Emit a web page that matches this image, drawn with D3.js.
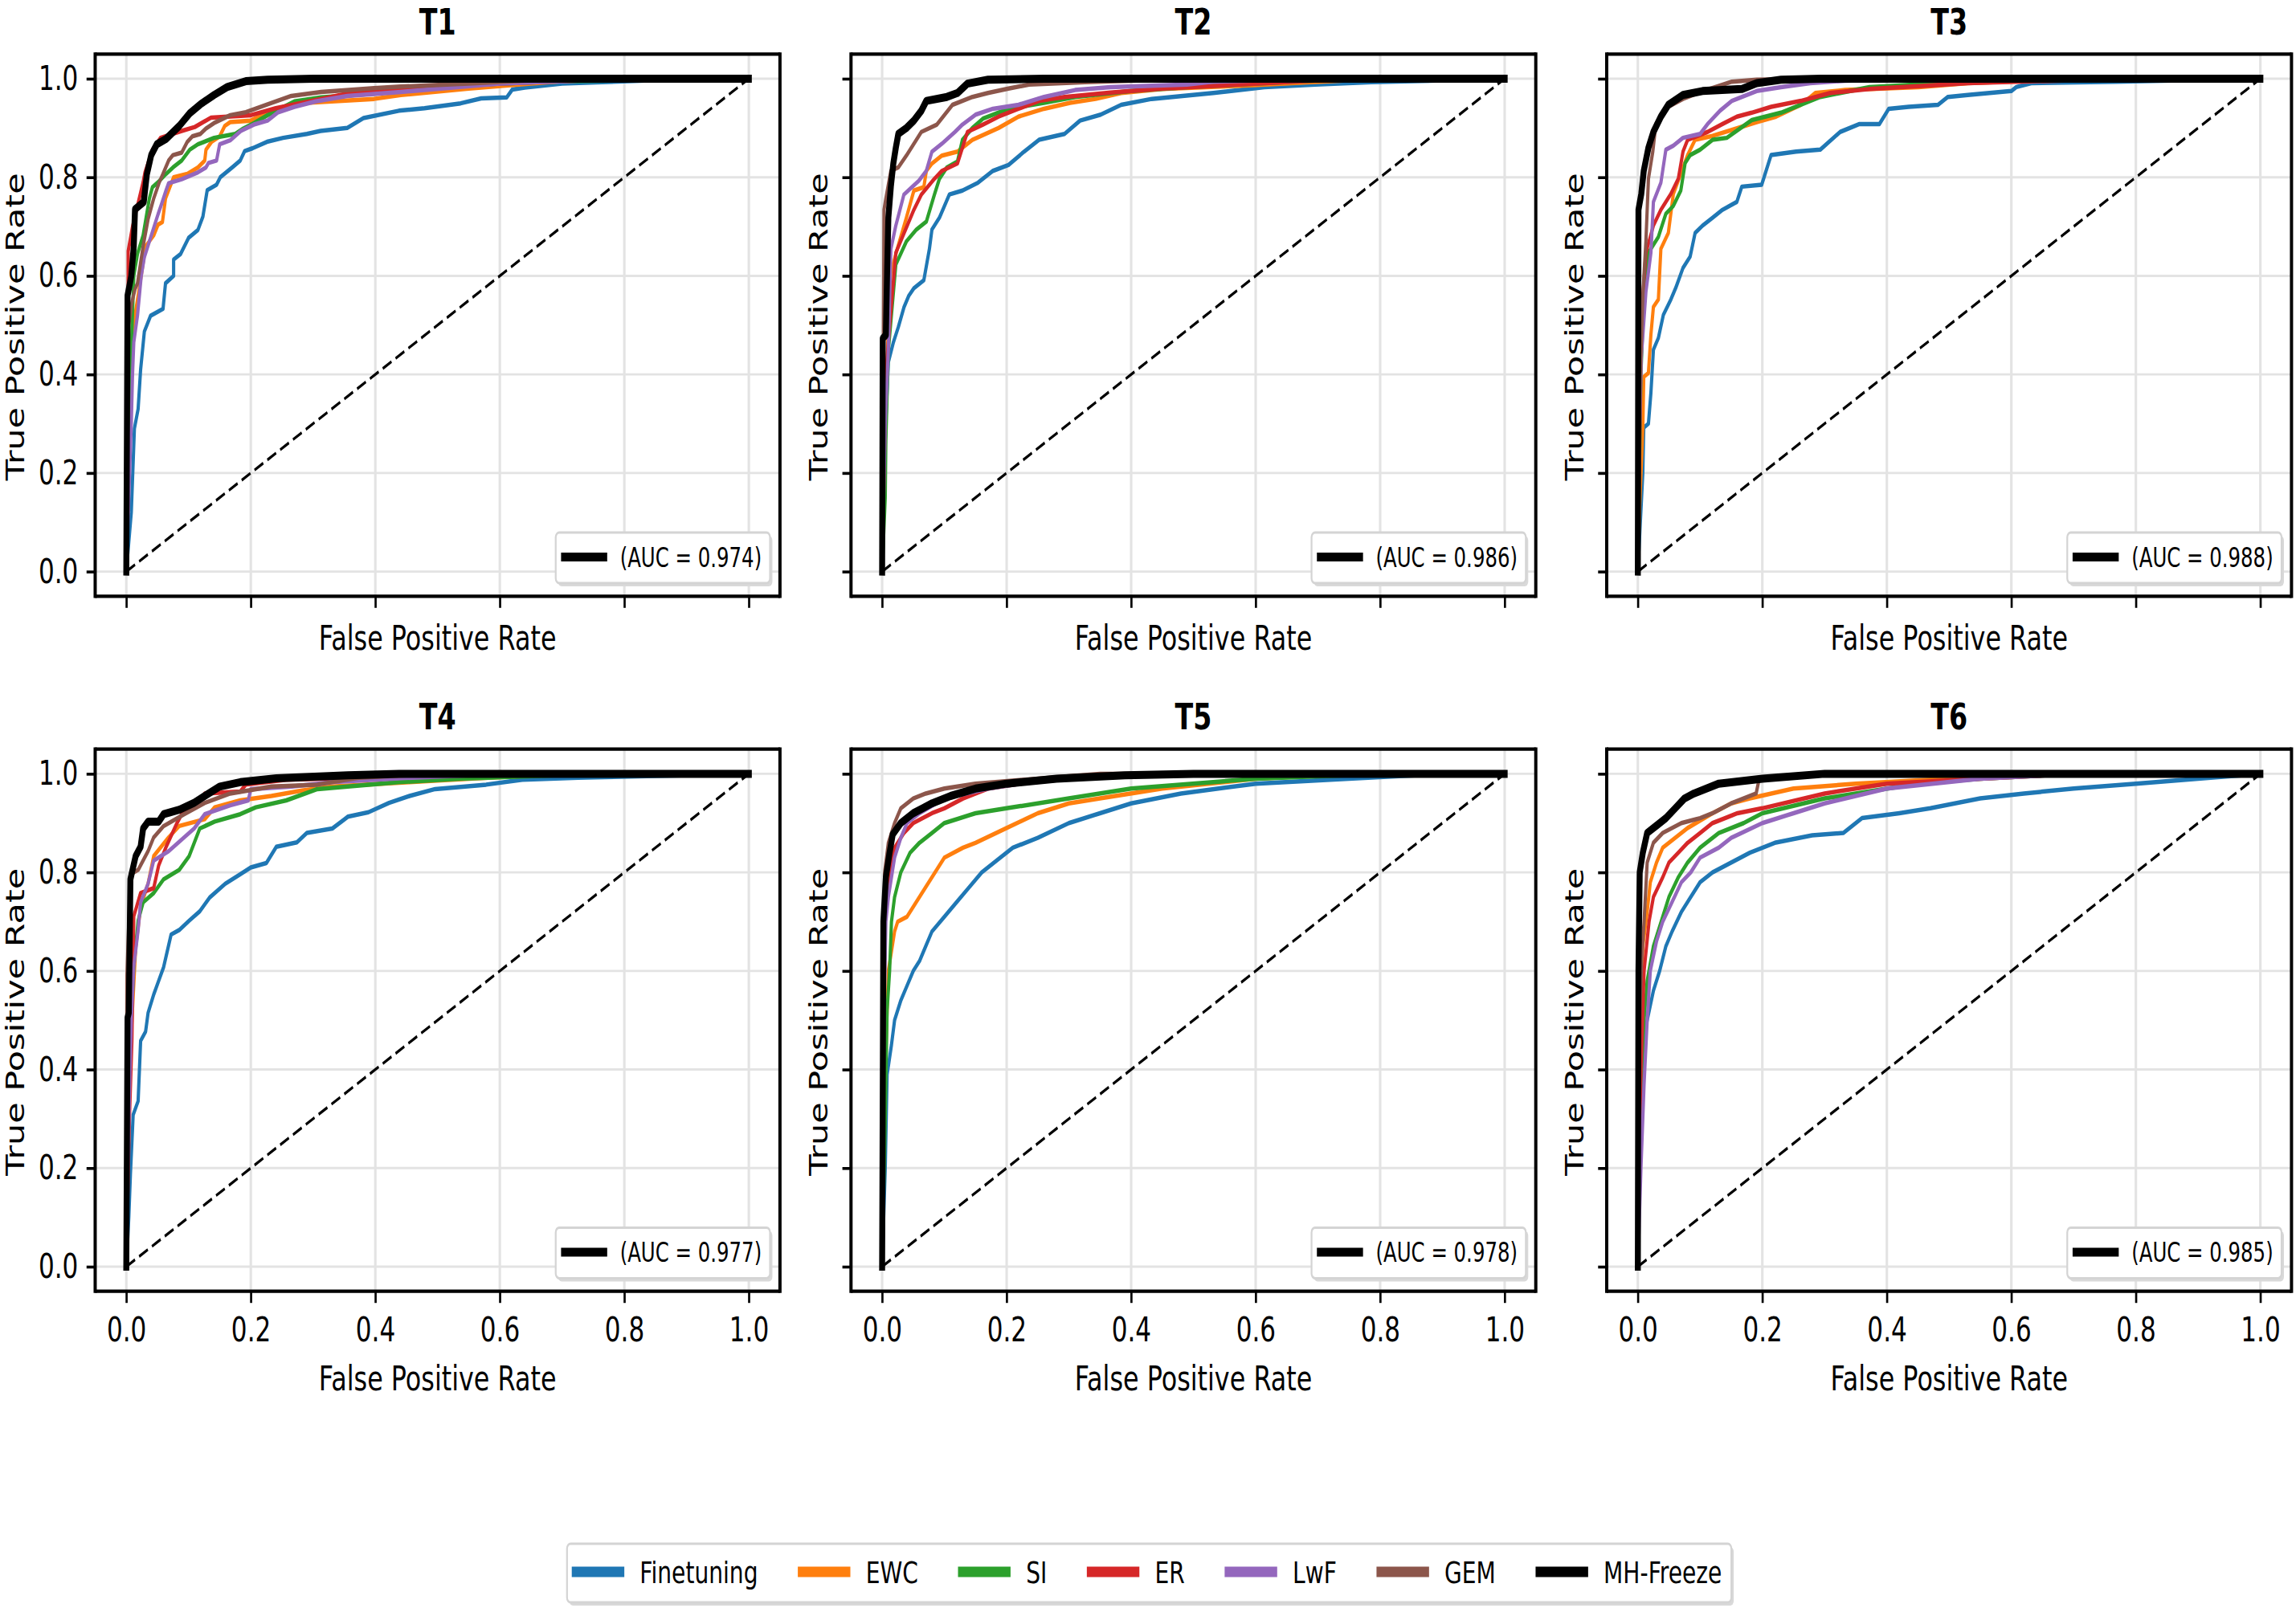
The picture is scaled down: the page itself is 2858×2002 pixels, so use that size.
<!DOCTYPE html>
<html>
<head>
<meta charset="utf-8">
<script src="https://cdn.jsdelivr.net/npm/d3@7/dist/d3.min.js"></script>
<style>
  body { margin: 0; background: #ffffff; }
  svg { display: block; }
  text { font-family: "DejaVu Sans", sans-serif; fill: #000; }
</style>
</head>
<body>
<svg id="chart" width="2858" height="2002"></svg>
<script>
// ---------------- data ----------------
const tasks = ["T1", "T2", "T3", "T4", "T5", "T6"];
const methods = ["Finetuning", "EWC", "SI", "ER", "LwF", "GEM", "MH-Freeze"];
const methodColors = ["#1f77b4", "#ff7f0e", "#2ca02c", "#d62728", "#9467bd", "#8c564b", "#000000"];
const aucValues = ["0.974", "0.986", "0.988", "0.977", "0.978", "0.985"];
const tickValues = [0, 0.2, 0.4, 0.6, 0.8, 1.0];
const chanceLine = [[0, 0], [1, 1]];

// ROC curves, [FPR, TPR] vertices, in method order
const roc_T1 = [
  [[0,0],[0.008,0.12],[0.013,0.29],[0.019,0.33],[0.023,0.41],[0.029,0.487],[0.039,0.519],[0.059,0.533],[0.063,0.585],[0.076,0.60],[0.076,0.633],[0.087,0.644],[0.10,0.677],[0.115,0.693],[0.123,0.72],[0.13,0.774],[0.145,0.785],[0.151,0.80],[0.171,0.821],[0.183,0.834],[0.19,0.853],[0.203,0.859],[0.226,0.872],[0.252,0.88],[0.29,0.888],[0.312,0.894],[0.355,0.90],[0.381,0.92],[0.438,0.935],[0.479,0.94],[0.537,0.95],[0.57,0.96],[0.611,0.962],[0.62,0.978],[0.64,0.982],[0.70,0.99],[0.85,0.997],[1,1]],
  [[0,0],[0.006,0.3],[0.01,0.47],[0.014,0.52],[0.024,0.60],[0.031,0.66],[0.044,0.682],[0.051,0.704],[0.058,0.709],[0.063,0.757],[0.076,0.80],[0.098,0.807],[0.115,0.82],[0.126,0.834],[0.128,0.856],[0.137,0.872],[0.15,0.883],[0.158,0.904],[0.167,0.912],[0.2,0.915],[0.227,0.932],[0.253,0.943],[0.29,0.951],[0.398,0.959],[0.441,0.967],[0.55,0.98],[0.65,0.99],[0.75,1.0],[1,1]],
  [[0,0],[0.008,0.45],[0.012,0.6],[0.018,0.645],[0.027,0.682],[0.037,0.757],[0.042,0.78],[0.051,0.79],[0.064,0.807],[0.075,0.82],[0.089,0.834],[0.102,0.856],[0.115,0.867],[0.141,0.88],[0.175,0.888],[0.188,0.899],[0.205,0.91],[0.227,0.926],[0.253,0.943],[0.27,0.954],[0.313,0.962],[0.398,0.97],[0.5,0.985],[0.7,0.995],[1,1]],
  [[0,0],[0.003,0.5],[0.003,0.65],[0.01,0.70],[0.027,0.79],[0.03,0.81],[0.042,0.856],[0.055,0.88],[0.089,0.894],[0.11,0.902],[0.136,0.921],[0.2,0.926],[0.24,0.94],[0.27,0.948],[0.313,0.959],[0.355,0.97],[0.441,0.978],[0.6,0.99],[0.8,1.0],[1,1]],
  [[0,0],[0.008,0.3],[0.01,0.4],[0.012,0.465],[0.018,0.52],[0.022,0.573],[0.024,0.60],[0.029,0.638],[0.051,0.725],[0.057,0.747],[0.064,0.774],[0.068,0.788],[0.089,0.796],[0.115,0.81],[0.128,0.82],[0.132,0.829],[0.145,0.834],[0.15,0.867],[0.167,0.875],[0.184,0.894],[0.205,0.907],[0.227,0.915],[0.244,0.932],[0.27,0.943],[0.304,0.954],[0.355,0.965],[0.441,0.973],[0.6,0.99],[0.8,1],[1,1]],
  [[0,0],[0.004,0.5],[0.009,0.546],[0.014,0.573],[0.018,0.585],[0.027,0.66],[0.035,0.715],[0.044,0.757],[0.053,0.79],[0.059,0.807],[0.068,0.834],[0.075,0.845],[0.089,0.85],[0.098,0.872],[0.106,0.883],[0.119,0.888],[0.128,0.899],[0.141,0.91],[0.167,0.926],[0.192,0.932],[0.227,0.948],[0.265,0.965],[0.313,0.973],[0.398,0.981],[0.441,0.984],[0.55,0.99],[0.7,1],[1,1]],
  [[0,0],[0.002,0.56],[0.008,0.6],[0.012,0.66],[0.014,0.735],[0.028,0.75],[0.033,0.806],[0.04,0.845],[0.049,0.867],[0.064,0.878],[0.085,0.904],[0.102,0.93],[0.119,0.948],[0.141,0.967],[0.162,0.983],[0.192,0.995],[0.227,0.998],[0.3,1.0],[1,1]]
];
const roc_T2 = [
  [[0,0],[0.004,0.2],[0.006,0.307],[0.01,0.425],[0.018,0.465],[0.026,0.496],[0.035,0.536],[0.043,0.56],[0.051,0.575],[0.067,0.591],[0.076,0.655],[0.08,0.694],[0.092,0.718],[0.108,0.765],[0.129,0.773],[0.154,0.789],[0.178,0.813],[0.203,0.825],[0.228,0.852],[0.252,0.876],[0.293,0.888],[0.318,0.915],[0.351,0.927],[0.384,0.947],[0.433,0.959],[0.532,0.971],[0.614,0.983],[0.696,0.988],[0.786,0.993],[1,1]],
  [[0,0],[0.006,0.35],[0.01,0.5],[0.014,0.607],[0.026,0.662],[0.039,0.718],[0.051,0.773],[0.067,0.78],[0.071,0.813],[0.08,0.828],[0.096,0.844],[0.121,0.852],[0.145,0.876],[0.187,0.90],[0.219,0.923],[0.26,0.939],[0.302,0.951],[0.343,0.959],[0.384,0.971],[0.45,0.979],[0.597,0.987],[0.688,0.993],[0.8,1],[1,1]],
  [[0,0],[0.005,0.15],[0.006,0.267],[0.01,0.449],[0.022,0.623],[0.039,0.67],[0.055,0.694],[0.071,0.71],[0.084,0.765],[0.092,0.797],[0.104,0.82],[0.121,0.832],[0.129,0.876],[0.145,0.90],[0.162,0.919],[0.203,0.939],[0.26,0.951],[0.31,0.963],[0.40,0.975],[0.49,0.983],[0.573,0.988],[0.75,1],[1,1]],
  [[0,0],[0.004,0.25],[0.006,0.402],[0.014,0.528],[0.022,0.647],[0.035,0.686],[0.051,0.734],[0.063,0.765],[0.084,0.797],[0.096,0.813],[0.121,0.828],[0.129,0.86],[0.137,0.892],[0.162,0.907],[0.187,0.923],[0.219,0.939],[0.252,0.955],[0.293,0.963],[0.367,0.972],[0.45,0.98],[0.573,0.988],[0.75,1],[1,1]],
  [[0,0],[0.005,0.3],[0.01,0.449],[0.014,0.654],[0.022,0.702],[0.035,0.765],[0.059,0.793],[0.071,0.813],[0.08,0.852],[0.096,0.868],[0.117,0.892],[0.129,0.907],[0.15,0.927],[0.178,0.939],[0.219,0.947],[0.26,0.963],[0.31,0.977],[0.367,0.983],[0.49,0.988],[0.53,0.994],[0.7,1],[1,1]],
  [[0,0],[0.002,0.45],[0.003,0.734],[0.006,0.757],[0.014,0.813],[0.026,0.82],[0.039,0.844],[0.051,0.868],[0.063,0.892],[0.088,0.907],[0.113,0.947],[0.145,0.963],[0.17,0.971],[0.203,0.98],[0.236,0.988],[0.326,0.993],[0.45,0.998],[0.6,1],[1,1]],
  [[0,0],[0.001,0.473],[0.006,0.48],[0.008,0.607],[0.01,0.718],[0.014,0.781],[0.018,0.828],[0.022,0.86],[0.026,0.888],[0.039,0.90],[0.051,0.915],[0.063,0.935],[0.071,0.955],[0.104,0.963],[0.121,0.971],[0.137,0.99],[0.17,0.998],[0.26,1.0],[1,1]]
];
const roc_T3 = [
  [[0,0],[0.008,0.2],[0.0095,0.292],[0.017,0.30],[0.021,0.363],[0.025,0.45],[0.033,0.474],[0.041,0.521],[0.053,0.552],[0.061,0.576],[0.0725,0.616],[0.084,0.639],[0.092,0.687],[0.104,0.702],[0.12,0.718],[0.136,0.734],[0.159,0.75],[0.167,0.781],[0.199,0.785],[0.21,0.829],[0.214,0.845],[0.254,0.852],[0.293,0.856],[0.325,0.892],[0.356,0.908],[0.388,0.908],[0.403,0.939],[0.435,0.943],[0.482,0.947],[0.498,0.963],[0.53,0.967],[0.60,0.975],[0.608,0.983],[0.632,0.991],[0.766,0.994],[1,1]],
  [[0,0],[0.003,0.134],[0.008,0.292],[0.0095,0.395],[0.017,0.403],[0.021,0.481],[0.025,0.537],[0.033,0.552],[0.037,0.655],[0.049,0.687],[0.057,0.766],[0.08,0.845],[0.092,0.876],[0.12,0.884],[0.151,0.896],[0.191,0.912],[0.222,0.923],[0.262,0.947],[0.285,0.971],[0.333,0.977],[0.451,0.983],[0.53,0.991],[0.7,1],[1,1]],
  [[0,0],[0.005,0.4],[0.0095,0.56],[0.017,0.647],[0.033,0.679],[0.045,0.726],[0.057,0.742],[0.069,0.773],[0.076,0.829],[0.084,0.845],[0.10,0.856],[0.12,0.876],[0.143,0.88],[0.183,0.916],[0.23,0.931],[0.293,0.963],[0.372,0.983],[0.49,0.991],[0.7,1],[1,1]],
  [[0,0],[0.004,0.35],[0.0055,0.513],[0.013,0.647],[0.025,0.702],[0.037,0.734],[0.053,0.766],[0.065,0.797],[0.0725,0.852],[0.08,0.876],[0.112,0.892],[0.136,0.908],[0.159,0.923],[0.183,0.931],[0.214,0.943],[0.262,0.955],[0.309,0.971],[0.372,0.979],[0.451,0.985],[0.53,0.991],[0.608,0.994],[0.8,1],[1,1]],
  [[0,0],[0.003,0.3],[0.0055,0.434],[0.013,0.568],[0.021,0.647],[0.025,0.75],[0.037,0.789],[0.045,0.856],[0.057,0.864],[0.0725,0.88],[0.10,0.888],[0.112,0.908],[0.132,0.935],[0.151,0.955],[0.191,0.975],[0.23,0.983],[0.277,0.991],[0.333,0.996],[0.45,1],[1,1]],
  [[0,0],[0.004,0.4],[0.008,0.56],[0.013,0.671],[0.017,0.797],[0.024,0.852],[0.029,0.908],[0.049,0.943],[0.0725,0.959],[0.096,0.971],[0.151,0.994],[0.191,0.998],[0.3,1],[1,1]],
  [[0,0],[0.001,0.734],[0.0055,0.766],[0.0095,0.813],[0.017,0.86],[0.025,0.892],[0.037,0.923],[0.049,0.947],[0.0725,0.967],[0.104,0.975],[0.167,0.979],[0.191,0.991],[0.23,0.998],[0.293,1],[1,1]]
];
const roc_T4 = [
  [[0,0],[0.004,0.1],[0.0066,0.187],[0.011,0.308],[0.019,0.336],[0.023,0.458],[0.031,0.477],[0.035,0.515],[0.044,0.552],[0.052,0.58],[0.06,0.608],[0.072,0.674],[0.085,0.683],[0.101,0.702],[0.118,0.721],[0.134,0.749],[0.159,0.777],[0.183,0.796],[0.2,0.81],[0.225,0.819],[0.241,0.852],[0.274,0.861],[0.29,0.88],[0.331,0.889],[0.356,0.913],[0.389,0.922],[0.422,0.941],[0.455,0.955],[0.496,0.969],[0.578,0.978],[0.636,0.988],[0.726,0.992],[1,1]],
  [[0,0],[0.003,0.3],[0.0066,0.44],[0.015,0.646],[0.023,0.73],[0.035,0.777],[0.044,0.833],[0.068,0.871],[0.085,0.894],[0.126,0.908],[0.142,0.932],[0.183,0.946],[0.233,0.955],[0.282,0.966],[0.331,0.974],[0.455,0.983],[0.562,0.991],[0.7,1],[1,1]],
  [[0,0],[0.005,0.35],[0.008,0.5],[0.012,0.608],[0.019,0.702],[0.027,0.739],[0.044,0.758],[0.06,0.786],[0.085,0.805],[0.101,0.833],[0.118,0.889],[0.142,0.903],[0.183,0.918],[0.208,0.932],[0.257,0.946],[0.307,0.969],[0.438,0.983],[0.537,0.99],[0.75,1],[1,1]],
  [[0,0],[0.005,0.3],[0.009,0.458],[0.012,0.711],[0.023,0.758],[0.044,0.768],[0.052,0.814],[0.064,0.852],[0.081,0.899],[0.089,0.918],[0.109,0.932],[0.126,0.96],[0.183,0.964],[0.192,0.978],[0.257,0.988],[0.373,0.992],[0.438,1],[1,1]],
  [[0,0],[0.005,0.35],[0.008,0.5],[0.012,0.608],[0.019,0.683],[0.023,0.739],[0.035,0.777],[0.044,0.824],[0.068,0.843],[0.093,0.871],[0.109,0.889],[0.126,0.918],[0.167,0.936],[0.196,0.946],[0.2,0.969],[0.266,0.974],[0.331,0.983],[0.438,0.991],[0.6,1],[1,1]],
  [[0,0],[0.001,0.59],[0.0066,0.796],[0.019,0.805],[0.035,0.843],[0.044,0.871],[0.06,0.894],[0.093,0.918],[0.126,0.941],[0.167,0.96],[0.233,0.974],[0.307,0.978],[0.373,0.992],[0.5,1],[1,1]],
  [[0,0],[0.002,0.505],[0.004,0.515],[0.0066,0.786],[0.015,0.833],[0.023,0.852],[0.027,0.889],[0.035,0.903],[0.052,0.903],[0.06,0.918],[0.085,0.927],[0.109,0.941],[0.126,0.955],[0.15,0.974],[0.183,0.983],[0.241,0.991],[0.356,0.997],[0.438,1],[1,1]]
];
const roc_T5 = [
  [[0,0],[0.005,0.2],[0.008,0.39],[0.015,0.45],[0.02,0.5],[0.03,0.54],[0.04,0.57],[0.05,0.6],[0.06,0.62],[0.07,0.65],[0.08,0.68],[0.1,0.71],[0.12,0.74],[0.14,0.77],[0.16,0.8],[0.19,0.83],[0.21,0.85],[0.25,0.87],[0.3,0.9],[0.35,0.92],[0.4,0.94],[0.48,0.96],[0.6,0.98],[0.75,0.99],[0.9,1],[1,1]],
  [[0,0],[0.005,0.4],[0.01,0.6],[0.02,0.68],[0.025,0.7],[0.04,0.71],[0.05,0.73],[0.07,0.77],[0.09,0.81],[0.1,0.83],[0.13,0.85],[0.15,0.86],[0.2,0.89],[0.25,0.92],[0.3,0.94],[0.35,0.95],[0.45,0.97],[0.6,0.99],[0.75,1],[1,1]],
  [[0,0],[0.005,0.3],[0.008,0.52],[0.012,0.6],[0.015,0.7],[0.02,0.75],[0.03,0.8],[0.045,0.84],[0.06,0.86],[0.08,0.88],[0.1,0.9],[0.15,0.92],[0.2,0.93],[0.3,0.95],[0.4,0.97],[0.6,0.99],[0.8,1],[1,1]],
  [[0,0],[0.003,0.5],[0.005,0.7],[0.01,0.78],[0.02,0.85],[0.035,0.88],[0.05,0.9],[0.08,0.92],[0.1,0.93],[0.13,0.95],[0.17,0.97],[0.22,0.98],[0.3,0.99],[0.45,1],[1,1]],
  [[0,0],[0.003,0.5],[0.006,0.7],[0.01,0.75],[0.02,0.83],[0.03,0.87],[0.04,0.9],[0.06,0.92],[0.1,0.95],[0.17,0.97],[0.22,0.98],[0.3,0.99],[0.4,1],[1,1]],
  [[0,0],[0.002,0.6],[0.004,0.8],[0.01,0.86],[0.02,0.9],[0.03,0.93],[0.05,0.95],[0.07,0.96],[0.1,0.97],[0.15,0.98],[0.25,0.99],[0.35,1],[1,1]],
  [[0,0],[0.002,0.7],[0.006,0.79],[0.012,0.84],[0.017,0.877],[0.03,0.9],[0.05,0.92],[0.065,0.93],[0.08,0.94],[0.11,0.955],[0.15,0.97],[0.2,0.98],[0.28,0.99],[0.39,0.997],[0.5,1],[1,1]]
];
const roc_T6 = [
  [[0,0],[0.005,0.3],[0.008,0.45],[0.015,0.5],[0.025,0.56],[0.035,0.6],[0.045,0.65],[0.055,0.68],[0.07,0.72],[0.085,0.75],[0.1,0.78],[0.12,0.8],[0.15,0.82],[0.18,0.84],[0.22,0.86],[0.28,0.875],[0.33,0.88],[0.36,0.91],[0.42,0.92],[0.47,0.93],[0.55,0.95],[0.62,0.96],[0.7,0.97],[0.8,0.98],[0.9,0.99],[1,1]],
  [[0,0],[0.004,0.5],[0.008,0.65],[0.015,0.72],[0.02,0.78],[0.03,0.82],[0.04,0.85],[0.06,0.87],[0.08,0.89],[0.12,0.92],[0.15,0.94],[0.18,0.95],[0.25,0.97],[0.35,0.98],[0.5,0.99],[0.65,1],[1,1]],
  [[0,0],[0.005,0.35],[0.01,0.5],[0.015,0.58],[0.025,0.65],[0.04,0.71],[0.05,0.75],[0.065,0.79],[0.08,0.82],[0.1,0.85],[0.13,0.88],[0.17,0.9],[0.2,0.92],[0.3,0.95],[0.45,0.98],[0.55,0.99],[0.7,1],[1,1]],
  [[0,0],[0.005,0.4],[0.01,0.6],[0.018,0.7],[0.025,0.75],[0.04,0.79],[0.05,0.82],[0.065,0.84],[0.08,0.86],[0.1,0.88],[0.12,0.9],[0.16,0.92],[0.2,0.93],[0.3,0.96],[0.4,0.98],[0.55,0.99],[0.7,1],[1,1]],
  [[0,0],[0.005,0.2],[0.01,0.37],[0.015,0.5],[0.02,0.6],[0.03,0.66],[0.04,0.7],[0.055,0.74],[0.07,0.78],[0.085,0.8],[0.1,0.83],[0.13,0.85],[0.15,0.87],[0.2,0.9],[0.25,0.92],[0.3,0.94],[0.4,0.97],[0.55,0.99],[0.7,1],[1,1]],
  [[0,0],[0.003,0.5],[0.006,0.62],[0.01,0.7],[0.015,0.82],[0.025,0.86],[0.04,0.88],[0.07,0.9],[0.1,0.91],[0.12,0.92],[0.15,0.94],[0.19,0.96],[0.195,0.99],[0.25,0.995],[0.35,1],[1,1]],
  [[0,0],[0.001,0.6],[0.003,0.8],[0.008,0.84],[0.015,0.88],[0.03,0.895],[0.045,0.91],[0.06,0.93],[0.075,0.95],[0.09,0.96],[0.13,0.98],[0.2,0.99],[0.3,1],[1,1]]
];
const rocByTask = [roc_T1, roc_T2, roc_T3, roc_T4, roc_T5, roc_T6];

// ---------------- drawing ----------------
const SX = 0.74;                 // the reference figure is horizontally compressed
const W0 = 2858 / SX;
const svg = d3.select("#chart");
svg.append("rect").attr("width", 2858).attr("height", 2002).attr("fill", "#fff");
const root = svg.append("g").attr("transform", `scale(${SX},1)`);

const colLeft = [160.1, 1431.5, 2702.7];
const rowTop = [67.3, 932.7];
const PW = 1151.9, PH = 675;

tasks.forEach((task, i) => {
  const r = Math.floor(i / 3), c = i % 3;
  const L = colLeft[c], T = rowTop[r];
  const x = d3.scaleLinear().domain([-0.05, 1.05]).range([L, L + PW]);
  const y = d3.scaleLinear().domain([-0.05, 1.05]).range([T + PH, T]);
  const g = root.append("g");

  // grid
  g.selectAll("line.gx").data(tickValues).join("line").attr("class", "gx")
    .attr("x1", d => x(d)).attr("x2", d => x(d)).attr("y1", T).attr("y2", T + PH)
    .attr("stroke", "#e3e3e3").attr("stroke-width", 4.2);
  g.selectAll("line.gy").data(tickValues).join("line").attr("class", "gy")
    .attr("x1", L).attr("x2", L + PW).attr("y1", d => y(d)).attr("y2", d => y(d))
    .attr("stroke", "#e3e3e3").attr("stroke-width", 2.9);

  const line = d3.line().x(d => x(d[0])).y(d => y(d[1]));

  // chance diagonal
  g.append("path").datum(chanceLine).attr("d", line)
    .attr("fill", "none").attr("stroke", "#000").attr("stroke-width", 3.6)
    .attr("stroke-dasharray", "17,8");

  // ROC curves
  rocByTask[i].forEach((pts, k) => {
    g.append("path").datum(pts).attr("d", line)
      .attr("fill", "none").attr("stroke", methodColors[k])
      .attr("stroke-width", k === 6 ? 10 : 5.5)
      .attr("stroke-linejoin", "round").attr("stroke-linecap", "square");
  });

  // axes
  const xAxis = d3.axisBottom(x).tickValues(tickValues).tickSize(14.5).tickPadding(17.7)
    .tickFormat(r === 1 ? d3.format(".1f") : () => "");
  const yAxis = d3.axisLeft(y).tickValues(tickValues).tickSize(14.5).tickPadding(14)
    .tickFormat(c === 0 ? d3.format(".1f") : () => "");
  const gx = g.append("g").attr("transform", `translate(0,${T + PH})`).call(xAxis);
  const gy = g.append("g").attr("transform", `translate(${L},0)`).call(yAxis);
  [gx, gy].forEach(a => {
    a.select(".domain").remove();
    a.selectAll(".tick line").attr("stroke", "#000").attr("stroke-width", 3.6);
    a.selectAll(".tick text").attr("font-size", 42).attr("fill", "#000")
      .attr("font-family", "DejaVu Sans, sans-serif");
  });

  // frame
  g.append("line").attr("x1", L).attr("x2", L + PW).attr("y1", T).attr("y2", T).attr("stroke", "#000").attr("stroke-width", 4.3);
  g.append("line").attr("x1", L).attr("x2", L + PW).attr("y1", T + PH).attr("y2", T + PH).attr("stroke", "#000").attr("stroke-width", 4.3);
  g.append("line").attr("x1", L).attr("x2", L).attr("y1", T - 2.15).attr("y2", T + PH + 2.15).attr("stroke", "#000").attr("stroke-width", 5.4);
  g.append("line").attr("x1", L + PW).attr("x2", L + PW).attr("y1", T - 2.15).attr("y2", T + PH + 2.15).attr("stroke", "#000").attr("stroke-width", 5.4);

  // title
  g.append("text").attr("x", L + PW / 2).attr("y", T - 24.5)
    .attr("text-anchor", "middle").attr("font-size", 45).attr("font-weight", "bold").text(task);

  // axis labels
  g.append("text").attr("x", L + PW / 2).attr("y", r === 0 ? T + PH + 67 : T + PH + 123)
    .attr("text-anchor", "middle").attr("font-size", 43).text("False Positive Rate");
  const ylx = c === 0 ? L - 119.6 : L - 39;
  g.append("text").attr("transform", `translate(${ylx},${T + PH / 2 + 2}) rotate(-90)`)
    .attr("text-anchor", "middle").attr("font-size", 43).text("True Positive Rate");

  // AUC legend (MH-Freeze)
  const boxR = L + PW - 16.7, boxB = T + PH - 16.3, boxH = 63;
  const lg = g.append("g");
  const shadow = lg.append("rect");
  const box = lg.append("rect");
  const txt = lg.append("text").attr("font-size", 33).text(`(AUC = ${aucValues[i]})`);
  const tl = txt.node().getComputedTextLength();
  const boxW = 108 + tl + 14;
  const boxL = boxR - boxW;
  shadow.attr("x", boxL + 4).attr("y", boxB - boxH + 4).attr("width", boxW).attr("height", boxH)
    .attr("rx", 6).attr("fill", "#d9d9d9");
  box.attr("x", boxL).attr("y", boxB - boxH).attr("width", boxW).attr("height", boxH)
    .attr("rx", 6).attr("fill", "#fff").attr("stroke", "#d4d4d4").attr("stroke-width", 3);
  lg.append("line").attr("x1", boxL + 9).attr("x2", boxL + 86.6)
    .attr("y1", boxB - 32.5).attr("y2", boxB - 32.5)
    .attr("stroke", methodColors[6]).attr("stroke-width", 11);
  txt.attr("x", boxL + 108).attr("y", boxB - 20.4);
});

// ---------------- figure legend ----------------
const legG = root.append("g");
const legShadow = legG.append("rect");
const legBox = legG.append("rect");
const swLen = 88.4, swGap = 26, colSpace = 67, legFont = 38;
const entries = methods.map((m, k) => {
  const t = legG.append("text").attr("font-size", legFont).text(m);
  return { t, w: t.node().getComputedTextLength(), k };
});
const totalW = d3.sum(entries, e => swLen + swGap + e.w) + colSpace * (entries.length - 1);
const legCenter = W0 / 2 - 6;
let cx = legCenter - totalW / 2 + 4;
const legStart = cx;
entries.forEach(e => {
  legG.append("line").attr("x1", cx).attr("x2", cx + swLen).attr("y1", 1957).attr("y2", 1957)
    .attr("stroke", methodColors[e.k]).attr("stroke-width", 13);
  e.t.attr("x", cx + swLen + swGap).attr("y", 1971);
  cx += swLen + swGap + e.w + colSpace;
});
const legEnd = cx - colSpace;
const lbL = legStart - 8, lbR = legEnd + 16;
legShadow.attr("x", lbL + 4).attr("y", 1922 + 4).attr("width", lbR - lbL).attr("height", 73)
  .attr("rx", 6).attr("fill", "#d9d9d9");
legBox.attr("x", lbL).attr("y", 1922).attr("width", lbR - lbL).attr("height", 73)
  .attr("rx", 6).attr("fill", "#fff").attr("stroke", "#d4d4d4").attr("stroke-width", 3);
</script>
</body>
</html>
